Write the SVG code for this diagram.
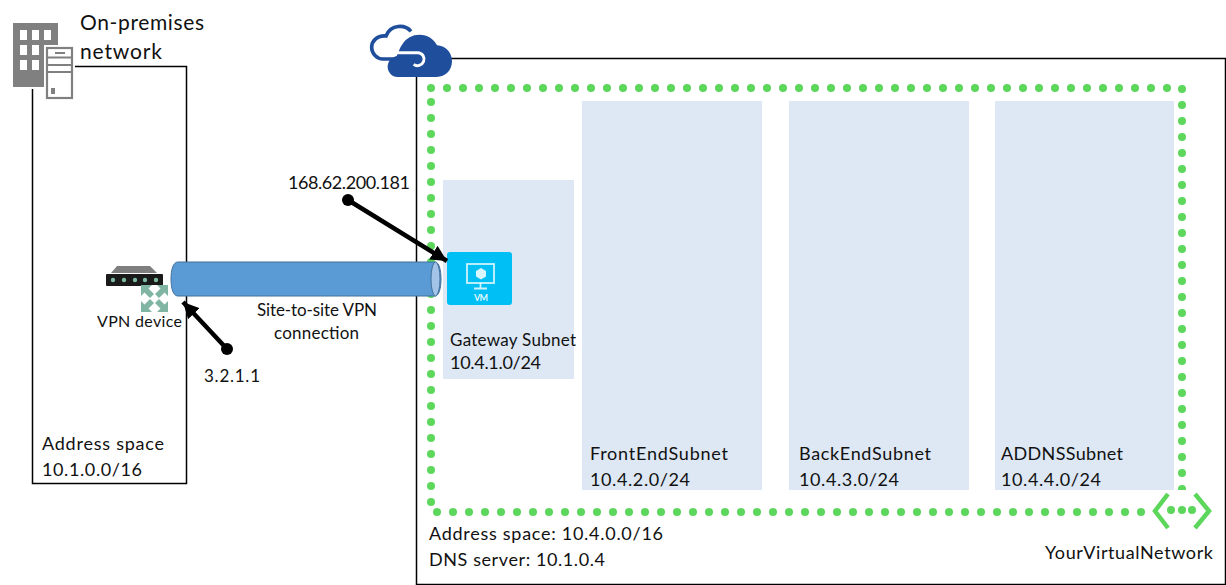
<svg xmlns="http://www.w3.org/2000/svg" width="1226" height="585" viewBox="0 0 1226 585">
<style>
text{font-family:"Lato","Liberation Sans",sans-serif;font-size:18px;fill:#111}
.box{fill:#fff;stroke:#000;stroke-width:1.5}
.subnet{fill:#dde8f4}
.pointer{stroke:#000;stroke-width:4.5;fill:none;marker-end:url(#arrow)}
.dots{fill:none;stroke:#5cd75c;stroke-width:8;stroke-linecap:round;stroke-dasharray:0 16}
.ar{fill:#7fb5a2}
</style>
<defs>
<marker id="arrow" markerUnits="userSpaceOnUse" markerWidth="20" markerHeight="20" refX="16" refY="8" orient="auto"><path d="M0 0L16 8L0 16z" fill="#000"/></marker>
<path id="corner-arrow" d="M0 0H11L7.500 3.500L13 9L9 13L3.500 7.500L0 11z"/>
</defs>
<g id="on-premises">
<rect class="box" x="32.500" y="66.500" width="154" height="417"/>
<g id="building-icon">
<rect x="11" y="87" width="48" height="2" fill="#fff"/>
<rect x="13" y="23" width="45" height="64" fill="#808080"/>
<g fill="#fff"><rect x="20" y="30" width="7" height="10"/><rect x="32" y="30" width="7" height="10"/><rect x="44" y="30" width="7" height="10"/><rect x="20" y="45" width="7" height="10"/><rect x="32" y="45" width="7" height="10"/><rect x="20" y="60" width="7" height="10"/><rect x="32" y="60" width="7" height="10"/></g>
<rect x="44" y="45" width="31" height="56" fill="#fff"/>
<rect x="47" y="48" width="25" height="50" fill="#fff" stroke="#808080" stroke-width="2.200"/>
<path d="M47 57.500H72M47 65H72M47 72H72M55 53H65" stroke="#808080" stroke-width="2" fill="none"/>
<rect x="51" y="88" width="4" height="6" fill="#808080"/>
</g>
<text x="80" y="30" style="font-size:21px" textLength="124">On-premises</text>
<text x="80" y="59" style="font-size:21px" textLength="82">network</text>
<text x="42" y="450" textLength="122">Address space</text>
<text x="42" y="476" textLength="100">10.1.0.0/16</text>
</g>
<g id="vnet">
<rect class="box" x="416.500" y="58.500" width="809" height="526"/>
<text x="429" y="540" textLength="234">Address space: 10.4.0.0/16</text>
<text x="429" y="566" textLength="176">DNS server: 10.1.0.4</text>
<path class="dots" d="M431 88H1182V512H431V88"/>
</g>
<g id="gateway-subnet">
<rect class="subnet" x="443" y="180" width="131" height="199"/>
<text x="450" y="346" style="font-size:17px" textLength="126">Gateway Subnet</text>
<text x="450" y="369" textLength="91">10.4.1.0/24</text>
</g>
<g id="frontend-subnet">
<rect class="subnet" x="582" y="101" width="180" height="389"/>
<text x="590" y="460" textLength="138">FrontEndSubnet</text>
<text x="590" y="486" textLength="100">10.4.2.0/24</text>
</g>
<g id="backend-subnet">
<rect class="subnet" x="789" y="101" width="180" height="389"/>
<text x="799" y="460" textLength="132">BackEndSubnet</text>
<text x="799" y="486" textLength="100">10.4.3.0/24</text>
</g>
<g id="addns-subnet">
<rect class="subnet" x="995" y="101" width="179" height="389"/>
<text x="1001" y="460" textLength="122">ADDNSSubnet</text>
<text x="1001" y="486" textLength="100">10.4.4.0/24</text>
</g>
<g id="azure-cloud" transform="translate(366 22) scale(.3333)">
<path d="M95 165C78 165 65 150 65 135C65 118 75 108 92 102C98 92 100 78 108 68C120 48 140 38 160 38C185 38 205 52 213 70C240 72 258 92 258 118C258 145 238 165 212 165z" fill="#1f4e9c"/>
<path d="M72 92H157A19.500 19.500 0 1 1 143 127" fill="none" stroke="#fff" stroke-width="9"/>
<path d="M135 28C118 8 75 5 60 42C30 40 17 60 17 75C17 97 35 111 50 111H150" fill="none" stroke="#1f4e9c" stroke-width="11"/>
</g>
<g id="vnet-icon">
<rect x="1150" y="490" width="66" height="40" fill="#fff"/>
<path d="M1168 494L1155 511L1168 528M1195 494L1209 511L1195 528" fill="none" stroke="#5cd75c" stroke-width="4.500"/>
<circle cx="1171" cy="510" r="4" fill="#5cd75c"/><circle cx="1182" cy="510" r="4" fill="#5cd75c"/><circle cx="1192" cy="510" r="4" fill="#5cd75c"/>
<text x="1045" y="559" textLength="168">YourVirtualNetwork</text>
</g>
<g id="vm-gateway">
<rect x="447" y="252" width="65" height="53" rx="3" fill="#00bff5"/>
<g fill="none" stroke="#fff" stroke-opacity=".8" stroke-width="1.800">
<rect x="467" y="264" width="27" height="19"/>
<path d="M480.500 283V288M474 288.500H487"/>
</g>
<path d="M481 268L486 271V276.500L481 279.500L476 276.500V271z" fill="#fff" fill-opacity=".85"/>
<text x="474" y="301" style="font-size:9px;fill:#dff6fd;font-weight:700" textLength="14">VM</text>
</g>
<g id="vpn-device">
<path d="M111 273L117 266H150L157 273z" fill="#7f7f7f"/>
<rect x="106" y="274" width="57" height="12" rx="1" fill="#1a1a1a"/>
<g fill="#7fba9f"><circle cx="113" cy="280" r="2.200"/><circle cx="124" cy="280" r="2.200"/><circle cx="135" cy="280" r="2.200"/><circle cx="145" cy="280" r="2.200"/><circle cx="156" cy="280" r="2.200"/></g>
<rect x="141" y="285" width="27" height="27" fill="#fff"/>
<g class="ar">
<use href="#corner-arrow" transform="translate(141 285)"/>
<use href="#corner-arrow" transform="translate(168 285) scale(-1 1)"/>
<use href="#corner-arrow" transform="translate(141 312) scale(1 -1)"/>
<use href="#corner-arrow" transform="translate(168 312) scale(-1 -1)"/>
</g>
<text x="97" y="327" style="font-size:16px" textLength="85">VPN device</text>
</g>
<g id="connectors">
<g id="vpn-tunnel">
<path d="M178 262H435C439 262 441 270 441 279C441 288 439 296 435 296H178C173 296 171 288 171 279C171 270 173 262 178 262z" fill="#5b9bd5" stroke="#41719c" stroke-width="1"/>
<ellipse cx="435.500" cy="279" rx="4.500" ry="17" fill="#a3c4e6" stroke="#41719c" stroke-width="1"/>
</g>
<circle cx="348" cy="200" r="6" fill="#000"/>
<path class="pointer" d="M348 200L447 261"/>
<circle cx="227" cy="349" r="6" fill="#000"/>
<path class="pointer" d="M227 349L183 302"/>
</g>
<text id="label-ip-public" x="288" y="189" textLength="122">168.62.200.181</text>
<text id="label-ip-device" x="204" y="382" style="font-size:17px" textLength="56">3.2.1.1</text>
<text id="label-connection-1" x="257" y="316" style="font-size:17px" textLength="120">Site-to-site VPN</text>
<text id="label-connection-2" x="274" y="339" style="font-size:17px" textLength="85">connection</text>
</svg>
